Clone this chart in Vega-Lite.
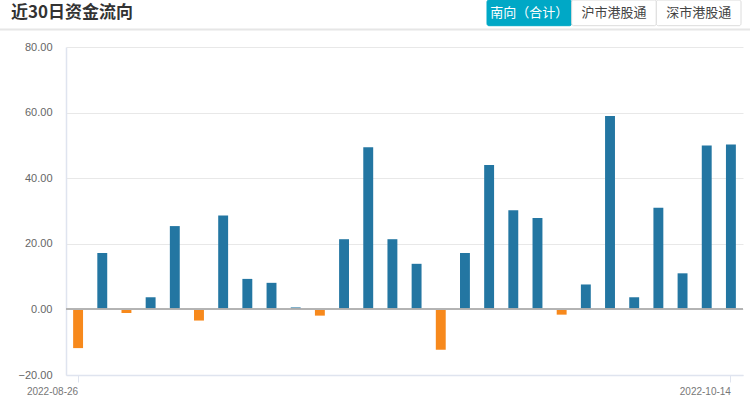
{
  "$schema": "https://vega.github.io/schema/vega-lite/v6.json",
  "width": 677,
  "height": 328,
  "autosize": {"type": "none"},
  "padding": {"left": 66, "top": 47, "right": 7, "bottom": 26},
  "background": "white",
  "title": {
    "text": "近30日资金流向",
    "anchor": "start",
    "frame": "group",
    "baseline": "bottom",
    "dx": -55,
    "dy": 39,
    "offset": 0,
    "font": "Noto Sans CJK SC",
    "fontSize": 17,
    "fontWeight": "bold",
    "color": "#333333"
  },
  "config": {"view": {"stroke": null}},
  "layer": [
    {
      "data": {
        "values": [
          {"date": "2022-08-26", "flow": -11.8},
          {"date": "2022-08-29", "flow": 17.2},
          {"date": "2022-08-30", "flow": -1.1},
          {"date": "2022-08-31", "flow": 3.7},
          {"date": "2022-09-01", "flow": 25.4},
          {"date": "2022-09-02", "flow": -3.4},
          {"date": "2022-09-05", "flow": 28.6},
          {"date": "2022-09-06", "flow": 9.3},
          {"date": "2022-09-07", "flow": 8.1},
          {"date": "2022-09-08", "flow": 0.6},
          {"date": "2022-09-09", "flow": -1.9},
          {"date": "2022-09-13", "flow": 21.4},
          {"date": "2022-09-14", "flow": 49.4},
          {"date": "2022-09-15", "flow": 21.4},
          {"date": "2022-09-16", "flow": 13.9},
          {"date": "2022-09-19", "flow": -12.3},
          {"date": "2022-09-20", "flow": 17.2},
          {"date": "2022-09-21", "flow": 44.0},
          {"date": "2022-09-22", "flow": 30.2},
          {"date": "2022-09-23", "flow": 27.9},
          {"date": "2022-09-26", "flow": -1.6},
          {"date": "2022-09-27", "flow": 7.6},
          {"date": "2022-09-28", "flow": 59.0},
          {"date": "2022-09-29", "flow": 3.7},
          {"date": "2022-09-30", "flow": 31.0},
          {"date": "2022-10-12", "flow": 11.0},
          {"date": "2022-10-13", "flow": 50.0},
          {"date": "2022-10-14", "flow": 50.3}
        ]
      },
      "layer": [
        {
          "mark": {"type": "bar"},
          "encoding": {
            "x": {
              "field": "date",
              "type": "ordinal",
              "sort": null,
              "scale": {"paddingInner": 0.59, "paddingOuter": 0.295},
              "axis": {
                "values": ["2022-08-26", "2022-10-14"],
                "title": null,
                "labelAlign": "right",
                "labelDx": 7,
                "labelAngle": 0,
                "labelFont": "Liberation Sans",
                "labelFontSize": 10,
                "labelColor": "#777777",
                "labelPadding": 4,
                "tickColor": "#dfe4ef",
                "tickSize": 7,
                "domainColor": "#dfe4ef",
                "domainWidth": 1.5,
                "grid": false
              }
            },
            "y": {
              "field": "flow",
              "type": "quantitative",
              "scale": {"domain": [-20, 80], "nice": false},
              "axis": {
                "values": [-20, 0, 20, 40, 60, 80],
                "format": ".2f",
                "title": null,
                "labelFont": "Liberation Sans",
                "labelFontSize": 11,
                "labelColor": "#666666",
                "ticks": false,
                "labelPadding": 14,
                "domainColor": "#dfe4ef",
                "domainWidth": 1.5,
                "gridColor": "#e8e8e8"
              }
            },
            "color": {
              "condition": {"test": "datum.flow < 0", "value": "#f7891c"},
              "value": "#2376a2"
            }
          }
        },
        {
          "mark": {"type": "rule", "color": "#b3b3b3", "strokeWidth": 1},
          "encoding": {"y": {"datum": 0}}
        }
      ]
    },
    {
      "data": {
        "values": [
          {"label": "南向（合计）"},
          {"label": "沪市港股通"},
          {"label": "深市港股通"}
        ]
      },
      "layer": [
        {
          "mark": {"type": "rect", "cornerRadius": 2, "strokeWidth": 1},
          "encoding": {
            "x": {
              "field": "label",
              "type": "nominal",
              "scale": {
                "type": "band",
                "domain": ["南向（合计）", "沪市港股通", "深市港股通"],
                "range": [421, 675],
                "paddingInner": 0,
                "paddingOuter": 0
              },
              "axis": null
            },
            "y": {
              "datum": "b",
              "type": "nominal",
              "scale": {
                "type": "band",
                "domain": ["b"],
                "range": [-47, -21.3],
                "paddingInner": 0,
                "paddingOuter": 0
              },
              "axis": null
            },
            "fill": {
              "condition": {"test": "datum.label === '南向（合计）'", "value": "#00a8c6"},
              "value": "#ffffff"
            },
            "stroke": {
              "condition": {"test": "datum.label === '南向（合计）'", "value": "#00a8c6"},
              "value": "#dcdcdc"
            }
          }
        },
        {
          "mark": {"type": "text", "font": "Noto Sans CJK SC", "fontSize": 13, "baseline": "middle", "align": "center"},
          "encoding": {
            "x": {"field": "label", "type": "nominal"},
            "y": {"datum": "b", "type": "nominal"},
            "text": {"field": "label"},
            "color": {
              "condition": {"test": "datum.label === '南向（合计）'", "value": "#ffffff"},
              "value": "#444444"
            }
          }
        }
      ]
    },
    {
      "data": {"values": [{}]},
      "mark": {"type": "rule", "color": "#e6e6e6", "strokeWidth": 2},
      "encoding": {
        "x": {"datum": 0, "type": "quantitative", "scale": {"domain": [0, 1], "range": [-66, 684], "nice": false, "zero": false}, "axis": null},
        "x2": {"datum": 1},
        "y": {"datum": 0, "type": "quantitative", "scale": {"domain": [0, 1], "range": [-17.5, 0], "nice": false, "zero": false}, "axis": null}
      }
    }
  ],
  "resolve": {"scale": {"x": "independent", "y": "independent"}}
}
